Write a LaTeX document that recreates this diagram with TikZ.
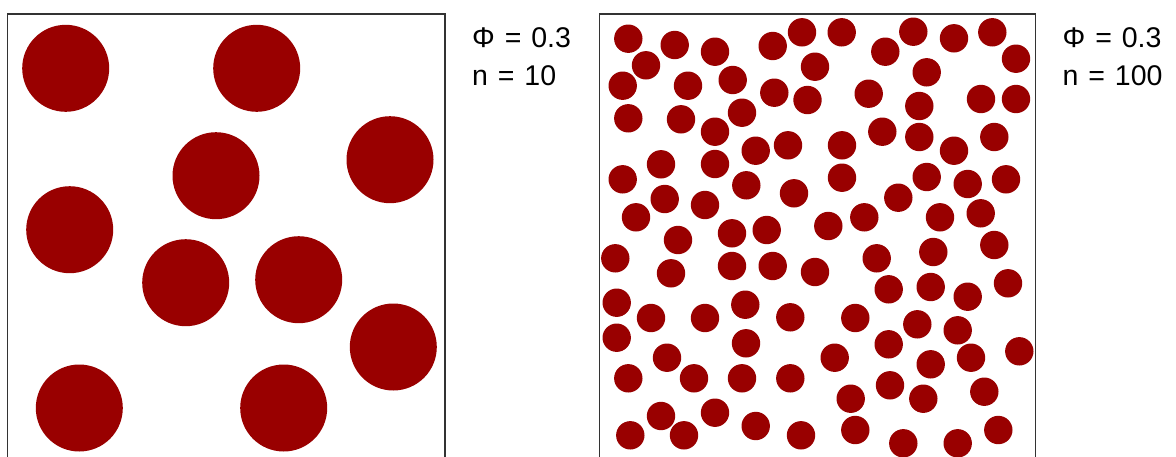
\documentclass[tikz,border=0pt]{standalone}
\usepackage{fontspec}
\setmainfont{Liberation Sans}[WordSpace={1.25}]
\definecolor{dotred}{RGB}{153,0,0}
\begin{document}
\begin{tikzpicture}[x=1pt,y=-1pt,
  dot/.style={fill=dotred},
  panel/.style={draw=black!80,line width=1.3pt},
  lbl/.style={anchor=base west,inner sep=0pt,font=\fontsize{28.5}{34}\selectfont}]
\useasboundingbox (0,0) rectangle (1176,456);
\clip (0,0) rectangle (1176,456);
\fill[white] (0,0) rectangle (1176,456);
% left panel
\draw[panel] (7.5,14) rectangle (445,480);
\foreach \x/\y in {65.7/68.3, 256.7/68.3, 216/175.7, 390/159.7, 69.7/229.7,
  185.7/282.7, 298.7/279.7, 393.3/347, 79.3/408, 283.7/408}
  \fill[dot] (\x,\y) circle (43.5);
% right panel
\draw[panel] (599.3,14) rectangle (1035.5,480);
\foreach \x/\y in {
  628.3/38.7, 674.7/45, 715/51.7, 772.7/46, 802/32.3, 646/65.3,
  622.7/85.7, 688/85.7, 732.7/80, 774.3/92.7, 628.3/118.3, 681/119.3,
  742/112.7, 715/131.7, 755.7/150.7, 788/145.3, 661/164.3, 715/164,
  622.7/179.3, 746.3/185.3, 794/193.3, 664.7/199, 705/205, 636/217.3,
  841.7/32.3, 885.3/51.7, 913.3/31.7, 954/38.3, 992.3/32.3, 1016/58.7,
  815/66.7, 926.7/72.3, 868.7/93.7, 919.3/106, 981/99, 1016/99,
  807.5/100, 882.3/131.7, 919.3/137, 842/145.3, 954/150.7, 994.3/137,
  842/177.7, 926.7/177, 967.7/184, 1006/179.3, 898.3/197.7, 864.3/217.3,
  828.3/226, 940/217.3, 980.7/213.3,
  678/240, 732/233.3, 766.7/230, 615.3/258.3, 671/273.3, 732/266,
  772.7/266, 616.7/302.7, 651/318, 705/318, 745.3/304.7, 790.3/317.3,
  616.7/337.7, 746/343.3, 667/357.7, 628.3/378.3, 694/378.3, 742/378.3,
  790.3/378.3, 661/416, 715/412.7, 630.3/435.3, 684/435.3, 755.7/426,
  801/435.3,
  994.3/245, 876.7/258.3, 933.3/252, 815/272, 888.7/289.3, 930.7/287,
  967.7/296.7, 1008/283.3, 855.3/318, 917.3/324.3, 957.7/330.3, 888.7/344.3,
  834.7/357.7, 930.7/364.3, 971/357.7, 1019.3/351.3, 890/385.3, 850.7/398.7,
  923.3/398.7, 984.3/391.7, 855.3/430, 903.3/443.3, 957.7/443.3, 998.3/430}
  \fill[dot] (\x,\y) circle (14.2);
% labels
\node[lbl] (phiA) at (472,47) {Φ = 0.3};
\node[lbl] (nA) at (472,85) {n = 10};
\node[lbl] (phiB) at (1062.5,47) {Φ = 0.3};
\node[lbl] (nB) at (1062.5,85) {n = 100};
\end{tikzpicture}
\end{document}
